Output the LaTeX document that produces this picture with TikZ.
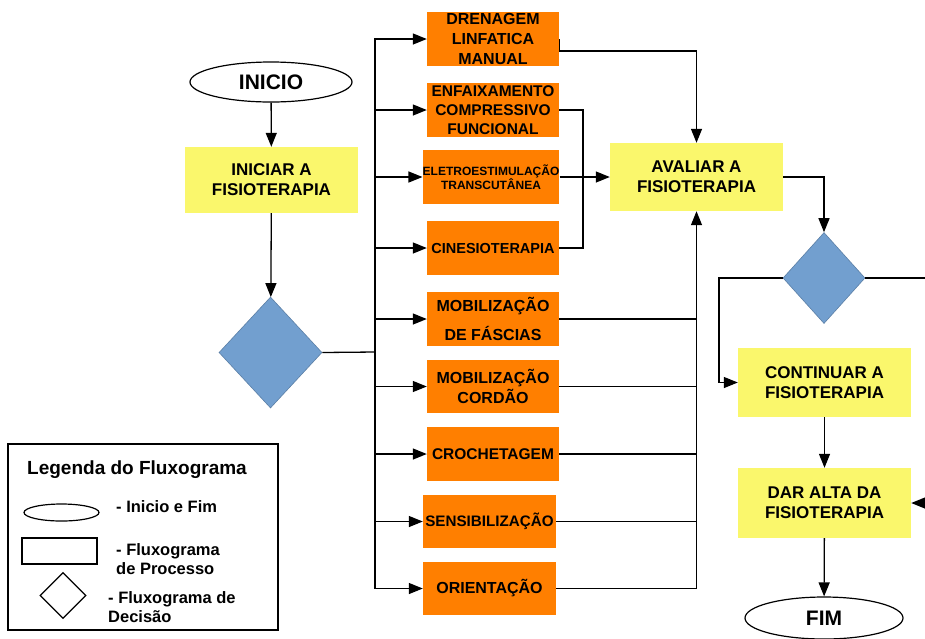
\documentclass[tikz,border=0pt]{standalone}
\usepackage{fontspec}
\setmainfont{Liberation Sans}
\usetikzlibrary{shapes.geometric,arrows.meta}
\definecolor{procorange}{HTML}{FF7F00}
\definecolor{stageyellow}{HTML}{FAF76C}
\definecolor{decblue}{HTML}{729FCF}
\begin{document}
\begin{tikzpicture}[x=1pt,y=-1pt,
  flow/.style={line width=1.3pt, draw=black},
  arr/.style={flow, -{Triangle[length=14pt,width=11pt]}},
  proc/.style={fill=procorange, minimum width=132pt, minimum height=54pt,
    inner sep=0pt, align=center, font=\bfseries\fontsize{16}{20}\selectfont},
  stage/.style={fill=stageyellow, minimum width=173pt, minimum height=68pt,
    inner sep=0pt, align=center, font=\bfseries\fontsize{17}{20}\selectfont},
  terminal/.style={ellipse, draw, line width=1.2pt, fill=white, inner sep=0pt,
    font=\bfseries\fontsize{21}{24}\selectfont},
  decision/.style={diamond, fill=decblue, draw=decblue!80!black,
    line width=0.6pt, inner sep=0pt},
  legtext/.style={anchor=west, align=left, inner sep=0pt,
    font=\bfseries\fontsize{16.5}{19}\selectfont}]
\useasboundingbox (0,0) rectangle (925,638);
\clip (0,0) rectangle (925,638);
\fill[white] (0,0) rectangle (925,638);

% start, first step and first decision
\node[terminal, minimum width=162pt, minimum height=40pt] (inicio) at (271,82) {INICIO};
\node[stage, minimum height=66pt] (iniciar) at (271.5,180) {INICIAR A\\FISIOTERAPIA};
\node[decision, minimum width=103pt, minimum height=111pt] (d1) at (270.5,352.5) {};

% treatment boxes
\node[proc] (dren) at (493,39) {DRENAGEM\\LINFATICA\\MANUAL};
\node[proc, font=\bfseries\fontsize{15.5}{19}\selectfont] (enf) at (493,110) {ENFAIXAMENTO\\COMPRESSIVO\\FUNCIONAL};
\node[proc, minimum width=136pt, font=\bfseries\fontsize{12}{13}\selectfont] (elet) at (491,177) {ELETROESTIMULAÇÃO\\TRANSCUTÂNEA};
\node[proc, font=\bfseries\fontsize{14.5}{18}\selectfont] (cin) at (493,248) {CINESIOTERAPIA};
\node[proc] (fasc) at (493,319) {MOBILIZAÇÃO\\[9pt]DE FÁSCIAS};
\node[proc, minimum height=53pt] (cord) at (493,386.5) {MOBILIZAÇÃO\\CORDÃO};
\node[proc, font=\bfseries\fontsize{15.5}{19}\selectfont] (croch) at (493,454) {CROCHETAGEM};
\node[proc, minimum width=133pt, minimum height=53pt, font=\bfseries\fontsize{15.2}{19}\selectfont] (sens) at (489.5,521.5) {SENSIBILIZAÇÃO};
\node[proc, minimum width=133pt, minimum height=53pt] (orient) at (489.5,588.5) {ORIENTAÇÃO};

% evaluation and second decision
\node[stage] (aval) at (696.5,177) {AVALIAR A\\FISIOTERAPIA};
\node[decision, minimum width=82pt, minimum height=91pt] (d2) at (824,278) {};
\node[stage, minimum height=69pt] (cont) at (824.5,382.5) {CONTINUAR A\\FISIOTERAPIA};
\node[stage, minimum height=70pt] (dar) at (824.5,503) {DAR ALTA DA\\FISIOTERAPIA};
\node[terminal, minimum width=158pt, minimum height=42pt] (fim) at (824,618) {FIM};

% junction points of the routing
\coordinate (bus) at (375,352);
\coordinate (jenf) at (583,177);
\coordinate (jleft) at (719,278);
\coordinate (jright) at (940,278);

% main flow
\draw[arr] (inicio) -- (iniciar);
\draw[arr] (iniciar) -- (d1);
\draw[flow] (d1.east) -- (bus);
\foreach \t in {dren,enf,elet,cin,fasc,cord,croch,sens,orient}
  \draw[arr] (bus) |- (\t.west);

% returns to the evaluation
\draw[arr] (dren.east) -- ++(0,12) -| (aval.north);
\draw[flow] (enf.east) -| (jenf) |- (cin.east);
\draw[arr] (elet.east) -- (aval.west);
\draw[arr] (orient.east) -| (aval.south);
\foreach \t in {fasc,cord,croch,sens}
  \draw[flow] (\t.east) -- (\t.east -| aval.south);

% outcome of the evaluation
\draw[arr] (aval.east) -| (d2.north);
\draw[arr] (d2.west) -- (jleft) |- (cont.west);
\draw[arr] (d2.east) -- (jright) |- (dar.east);
\draw[arr] (cont) -- (dar);
\draw[arr] (dar) -- (fim);

% legend
\node[draw, line width=1.2pt, minimum width=270pt, minimum height=186pt, inner sep=0pt] (legend) at (143,537) {};
\node[legtext, font=\bfseries\fontsize{19}{22}\selectfont] (legtitle) at (27,470) {Legenda do Fluxograma};
\node[ellipse, draw, line width=1.2pt, minimum width=75pt, minimum height=17pt, inner sep=0pt] (legell) at (61.5,512.5) {};
\node[draw, line width=1.2pt, minimum width=75pt, minimum height=26pt, inner sep=0pt] (legrect) at (59.5,551) {};
\node[diamond, draw, line width=1.2pt, minimum width=46pt, minimum height=46pt, inner sep=0pt] (legdia) at (63,595.5) {};
\node[legtext] (legt1) at (116,507) {- Inicio e Fim};
\node[legtext] (legt2) at (116,559) {- Fluxograma\\de Processo};
\node[legtext] (legt3) at (108,607) {- Fluxograma de\\Decisão};
\end{tikzpicture}
\end{document}
